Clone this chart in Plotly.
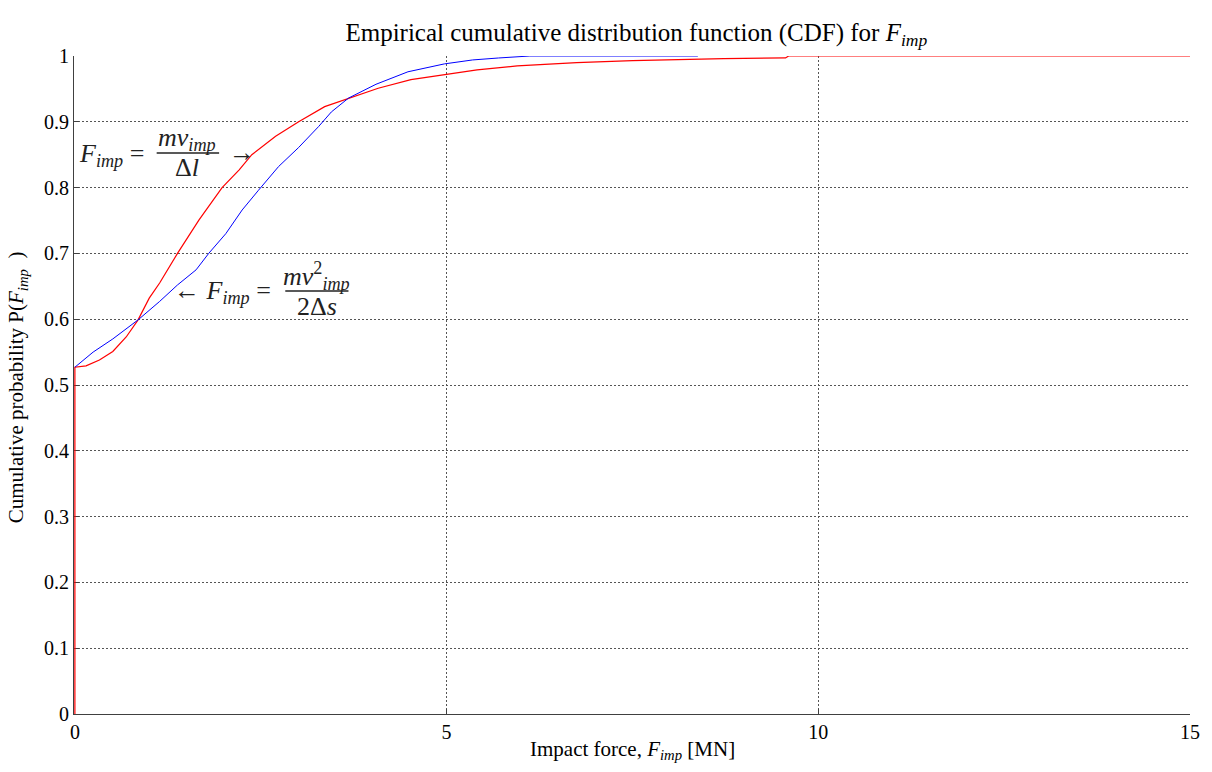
import plotly.graph_objects as go

# Red: F_imp = m v_imp / Δt
red_x = [0, 0, 0.15, 0.33, 0.51, 0.69, 0.85, 1.0, 1.14, 1.38, 1.67, 1.98, 2.21, 2.38, 2.70,
         3.01, 3.36, 3.68, 4.08, 4.52, 4.97, 5.41, 5.95, 6.75, 7.5, 8.13, 8.73, 9.56, 9.6, 15]
red_y = [0, 0.527, 0.529, 0.538, 0.551, 0.573, 0.599, 0.632, 0.655, 0.70, 0.751, 0.80, 0.827, 0.85, 0.878,
         0.90, 0.923, 0.935, 0.951, 0.964, 0.972, 0.979, 0.985, 0.990, 0.993, 0.995, 0.996, 0.997, 1.0, 1.0]

# Blue: F_imp = m v_imp^2 / (2 Δs)
blue_x = [0, 0.245, 0.51, 0.85, 1.14, 1.38, 1.63, 1.80, 2.03, 2.25, 2.47, 2.74, 3.01, 3.28, 3.45,
          3.68, 4.05, 4.48, 4.97, 5.35, 5.7, 6.12, 8.38]
blue_y = [0.527, 0.55, 0.57, 0.599, 0.627, 0.652, 0.675, 0.70, 0.73, 0.766, 0.796, 0.832, 0.861, 0.893, 0.915,
          0.936, 0.957, 0.976, 0.988, 0.994, 0.997, 1.0, 1.0]

x_ticks = [0, 5, 10, 15]
y_ticks = [0, 0.1, 0.2, 0.3, 0.4, 0.5, 0.6, 0.7, 0.8, 0.9, 1]
y_tick_text = ["0", "0.1", "0.2", "0.3", "0.4", "0.5", "0.6", "0.7", "0.8", "0.9", "1"]

FONT = "Liberation Serif, Times New Roman, serif"

fig = go.Figure()
fig.add_trace(go.Scatter(x=red_x, y=red_y, mode="lines", line=dict(color="#ff0000", width=1.2),
                         showlegend=False, hoverinfo="skip"))
fig.add_trace(go.Scatter(x=blue_x, y=blue_y, mode="lines", line=dict(color="#0000ff", width=1),
                         showlegend=False, hoverinfo="skip"))

axis_common = dict(
    showline=True, linecolor="#404040", linewidth=1, mirror=False, layer="below traces",
    ticks="inside", ticklen=5, tickcolor="#404040",
    showgrid=True, gridcolor="#555555", gridwidth=1, griddash="2px,2px",
    zeroline=False, tickfont=dict(family=FONT, size=20, color="black"),
)

fig.update_xaxes(range=[-0.012, 15], tickvals=x_ticks, ticktext=[str(v) for v in x_ticks], **axis_common)
fig.update_yaxes(range=[0, 1], tickvals=y_ticks, ticktext=y_tick_text, **axis_common)

fig.update_layout(
    width=1212, height=772,
    margin=dict(l=74, r=15, t=56, b=58),
    paper_bgcolor="white", plot_bgcolor="white",
    font=dict(family=FONT, color="black"),
    title=dict(text="Empirical cumulative distribution function (CDF) for <i>F</i><sub><i>imp</i></sub>",
               x=0.525, xref="container", xanchor="center",
               y=1 - 23 / 772, yref="container", yanchor="top",
               font=dict(family=FONT, size=25, color="black")),
)

ann_font = dict(family=FONT, size=26, color="#222222")
annotations = [
    # axis titles
    dict(text="Cumulative probability P(<i>F</i><sub><i>imp</i></sub>  )", xref="paper", yref="paper",
         x=(18 - 75) / 1122, y=0.497, xanchor="center", yanchor="middle", textangle=-90,
         showarrow=False, font=dict(family=FONT, size=21, color="black")),
    dict(text="Impact force, <i>F</i><sub><i>imp</i></sub> [MN]", xref="paper", yref="paper",
         x=0.5, y=(714 - 750) / 658, xanchor="center", yanchor="middle",
         showarrow=False, font=dict(family=FONT, size=21, color="black")),
    # label 1
    dict(text="<i>F</i><sub><i>imp</i></sub> =", x=0.03, y=0.849, xanchor="left", yanchor="middle",
         showarrow=False, font=ann_font),
    dict(text="<i>mv</i><sub><i>imp</i></sub>", x=1.51, y=0.874, xanchor="center", yanchor="middle",
         showarrow=False, font=ann_font),
    dict(text="Δ<i>l</i>", x=1.51, y=0.830, xanchor="center", yanchor="middle",
         showarrow=False, font=ann_font),
    dict(text="→", x=2.04, y=0.8526, xanchor="left", yanchor="middle",
         showarrow=False, font=ann_font),
    # label 2
    dict(text="← <i>F</i><sub><i>imp</i></sub> =", x=1.30, y=0.641, xanchor="left", yanchor="middle",
         showarrow=False, font=ann_font),
    dict(text="<i>mv</i><sup>2</sup><sub><i>imp</i></sub>", x=3.25, y=0.666, xanchor="center", yanchor="middle",
         showarrow=False, font=ann_font),
    dict(text="2Δ<i>s</i>", x=3.25, y=0.619, xanchor="center", yanchor="middle",
         showarrow=False, font=ann_font),
]
fig.update_layout(annotations=annotations)

fig.add_shape(type="line", x0=1.10, x1=1.94, y0=0.8526, y1=0.8526, line=dict(color="#222222", width=1.5))
fig.add_shape(type="line", x0=2.83, x1=3.68, y0=0.643, y1=0.643, line=dict(color="#222222", width=1.5))

fig.write_html("out.html")
